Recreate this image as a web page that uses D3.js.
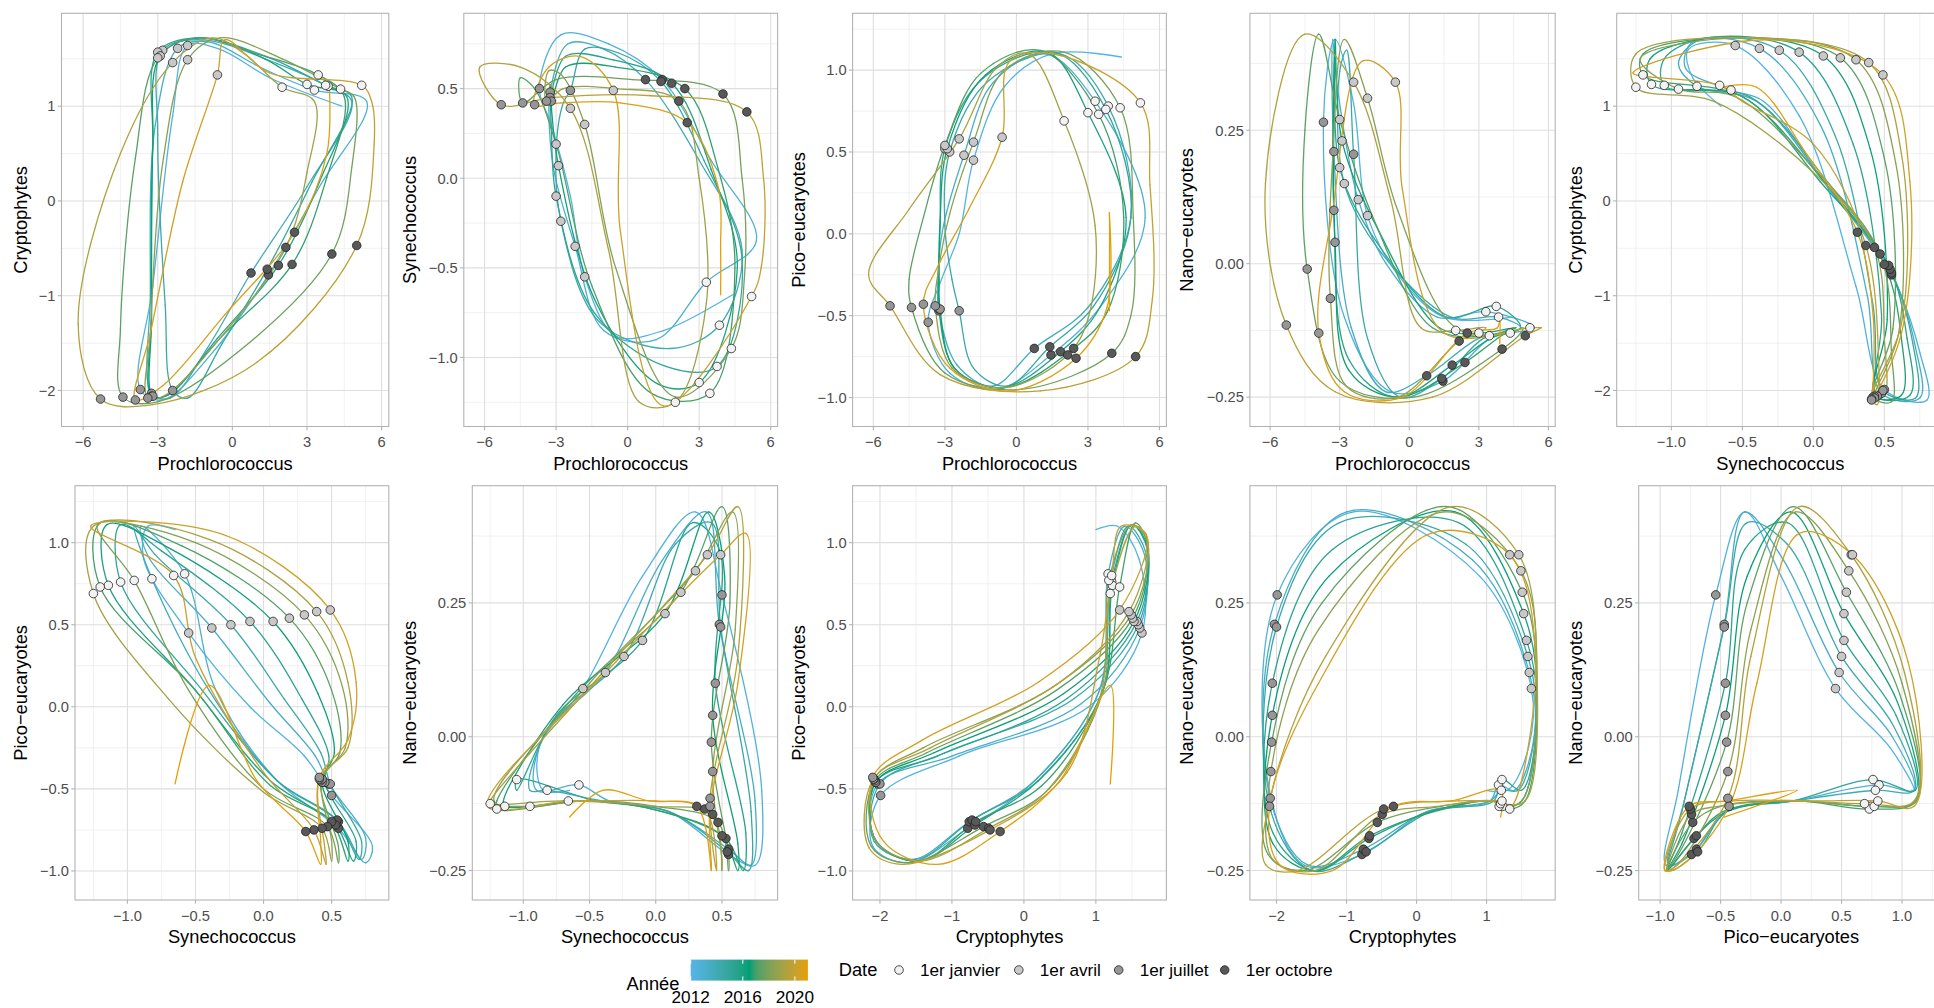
<!DOCTYPE html>
<html>
<head>
<meta charset="utf-8">
<script src="https://cdn.jsdelivr.net/npm/d3@7"></script>
<style>
html,body{margin:0;padding:0;background:#fff;overflow:hidden;}
svg{display:block;font-family:"Liberation Sans",Arial,Helvetica,sans-serif;}
</style>
</head>
<body>
<svg id="chart" width="1944" height="1008"></svg>
<script>
// ---------------- DATA ----------------
const years = [2012, 2013, 2014, 2015, 2016, 2017, 2018, 2019, 2020];
// one value per month start (1 Jan ... 1 Dec); 2012 starts mid-January
const monthStarts = ["01-01","02-01","03-01","04-01","05-01","06-01","07-01","08-01","09-01","10-01","11-01","12-01"];

const prochlorococcus = [
  [4.4, 1.5, -0.5, -1.8, -2.4, -3.2, -3.7, -2.8, -0.8, 1.45, 3.5, 5.4],
  [3.3, 1.2, -1.0, -2.2, -3.1, -3.3, -3.25, -2.5, -1.0, 0.75, 3.0, 4.8],
  [3.85, 1.8, -1.2, -2.8, -3.0, -2.7, -2.4, -1.8, -0.4, 1.4, 3.2, 4.8],
  [3.75, 1.6, -1.4, -3.0, -3.2, -3.25, -3.25, -2.6, -0.6, 1.85, 3.5, 4.6],
  [3.0, 1.3, -1.3, -2.9, -3.2, -3.25, -3.2, -2.6, -0.5, 2.4, 3.8, 4.5],
  [3.45, 1.0, -1.5, -3.0, -3.9, -4.5, -4.4, -3.0, 0.2, 4.0, 4.8, 4.9],
  [4.35, 2.0, -0.5, -1.8, -2.8, -3.3, -3.4, -2.7, -0.5, 2.15, 3.0, 3.3],
  [2.0, 0.5, -0.8, -2.4, -4.5, -6.2, -5.3, -3.2, 1.0, 5.0, 5.7, 5.6],
  [5.2, 1.5, -0.3, -0.6, -2.0, -3.3, -3.9, -2.8, -0.3, 2.5, 3.8, 3.9]
];
const prochlorococcusLast = 3.9;

const cryptophytes = [
  [1.0, 1.3, 1.6, 1.64, 0.9, -0.9, -1.99, -2.1, -1.6, -0.78, 0.15, 1.05],
  [1.17, 1.4, 1.68, 1.61, 0.8, -1.0, -2.03, -2.08, -1.55, -0.76, 0.15, 1.05],
  [1.21, 1.45, 1.7, 1.59, 0.7, -1.1, -2.0, -2.08, -1.5, -0.72, 0.2, 1.1],
  [1.22, 1.5, 1.72, 1.57, 0.6, -1.2, -2.06, -2.05, -1.45, -0.68, 0.2, 1.1],
  [1.23, 1.5, 1.72, 1.53, 0.55, -1.25, -2.06, -2.05, -1.45, -0.67, 0.25, 1.1],
  [1.33, 1.55, 1.72, 1.51, 0.45, -1.35, -2.07, -2.12, -1.6, -0.56, 0.35, 1.1],
  [1.18, 1.5, 1.72, 1.49, 0.4, -1.4, -2.08, -2.05, -1.45, -0.49, 0.3, 1.05],
  [1.2, 1.55, 1.72, 1.46, 0.5, -1.3, -2.09, -2.15, -1.7, -0.47, 0.6, 1.05],
  [1.22, 1.35, 1.7, 1.33, 0.2, -1.4, -2.1, -1.95, -1.2, -0.33, 0.5, 1.2]
];
const cryptophytesLast = 1.2;

const synechococcus = [
  [-0.65, -0.85, -0.88, -0.55, -0.1, 0.3, 0.5, 0.8, 0.75, 0.55, 0.1, -0.35],
  [-0.58, -0.9, -0.85, -0.38, 0.05, 0.38, 0.48, 0.75, 0.72, 0.55, 0.1, -0.4],
  [-0.82, -0.95, -0.8, -0.24, 0.15, 0.42, 0.49, 0.72, 0.7, 0.54, 0.1, -0.45],
  [-1.05, -1.05, -0.75, -0.10, 0.28, 0.48, 0.45, 0.68, 0.66, 0.53, 0.05, -0.5],
  [-1.14, -1.15, -0.7, 0.07, 0.4, 0.52, 0.43, 0.62, 0.62, 0.50, 0.05, -0.5],
  [-1.2, -1.2, -0.6, 0.19, 0.5, 0.56, 0.42, 0.55, 0.55, 0.47, 0.0, -0.55],
  [-0.95, -1.22, -0.5, 0.30, 0.58, 0.6, 0.43, 0.5, 0.5, 0.43, 0.0, -0.7],
  [-1.25, -1.25, -0.4, 0.39, 0.62, 0.62, 0.41, 0.45, 0.46, 0.37, 0.0, -0.5],
  [-0.66, -1.27, -0.3, 0.49, 0.68, 0.62, 0.41, 0.42, 0.42, 0.31, -0.05, -0.4]
];
const synechococcusLast = -0.65;

const picoEucaryotes = [
  [1.08, 1.1, 0.9, 0.45, 0.0, -0.3, -0.54, -0.85, -0.95, -0.74, -0.45, 0.1],
  [0.81, 1.1, 0.92, 0.48, 0.02, -0.3, -0.47, -0.8, -0.93, -0.70, -0.45, 0.1],
  [0.78, 1.1, 0.93, 0.50, 0.05, -0.28, -0.47, -0.82, -0.93, -0.69, -0.45, 0.1],
  [0.76, 1.11, 0.95, 0.52, 0.05, -0.3, -0.46, -0.82, -0.94, -0.72, -0.45, 0.1],
  [0.74, 1.11, 0.97, 0.52, 0.08, -0.28, -0.46, -0.82, -0.94, -0.70, -0.48, 0.1],
  [0.73, 1.12, 0.98, 0.54, 0.1, -0.28, -0.45, -0.85, -0.95, -0.73, -0.5, 0.1],
  [0.77, 1.11, 1.0, 0.56, 0.12, -0.25, -0.44, -0.82, -0.94, -0.74, -0.52, 0.05],
  [0.69, 1.1, 1.02, 0.58, 0.15, -0.25, -0.44, -0.86, -0.96, -0.75, -0.4, 0.3],
  [0.80, 1.1, 1.05, 0.59, 0.15, -0.2, -0.43, -0.82, -0.96, -0.76, -0.45, 0.13]
];
const picoEucaryotesLast = -0.47;

const nanoEucaryotes = [
  [-0.1, -0.1, -0.02, 0.09, 0.3, 0.42, 0.265, -0.1, -0.24, -0.22, -0.14, -0.12],
  [-0.09, -0.1, 0.0, 0.12, 0.33, 0.42, 0.21, -0.12, -0.24, -0.21, -0.14, -0.12],
  [-0.10, -0.1, 0.02, 0.15, 0.36, 0.4, 0.205, -0.14, -0.25, -0.215, -0.14, -0.12],
  [-0.08, -0.1, 0.04, 0.18, 0.4, 0.35, 0.10, -0.18, -0.25, -0.19, -0.14, -0.12],
  [-0.13, -0.12, 0.06, 0.23, 0.42, 0.3, 0.04, -0.2, -0.25, -0.185, -0.14, -0.12],
  [-0.135, -0.12, 0.08, 0.27, 0.43, 0.25, -0.01, -0.22, -0.25, -0.16, -0.13, -0.12],
  [-0.13, -0.12, 0.1, 0.31, 0.42, 0.2, -0.065, -0.23, -0.25, -0.145, -0.13, -0.12],
  [-0.125, -0.12, 0.12, 0.34, 0.43, 0.15, -0.115, -0.24, -0.25, -0.135, -0.12, -0.12],
  [-0.12, -0.13, 0.14, 0.34, 0.38, 0.1, -0.13, -0.24, -0.25, -0.13, -0.12, -0.1]
];
const nanoEucaryotesLast = -0.15;

// tick values
const proTicks = [-6, -3, 0, 3, 6];
const cryptoTicks = [-2, -1, 0, 1];
const synTicks = [-1.0, -0.5, 0.0, 0.5];
const picoTicks = [-1.0, -0.5, 0.0, 0.5, 1.0];
const nanoTicks = [-0.25, 0.0, 0.25];

// marker dates (month index) and legend
const markerMonthIndex = [0, 3, 6, 9];
const markerLabels = ["1er janvier", "1er avril", "1er juillet", "1er octobre"];
const colourYears = [2012, 2016, 2020];

// ---------------- STYLE / LAYOUT ----------------
const markerFills = ["#F2F2F2", "#C8C8C8", "#969696", "#585858"];
const yearColours = ["#56B4E9", "#009E73", "#E69F00"];
const fontTick = 14.7, fontTitle = 18.3, fontLegend = 17.2;

const vars = {
  pro:    {name: "Prochlorococcus", values: prochlorococcus, last: prochlorococcusLast, domain: [-6.87, 6.29], ticks: proTicks, dec: 0, left: 61.5},
  crypto: {name: "Cryptophytes", values: cryptophytes, last: cryptophytesLast, domain: [-2.38, 1.98], ticks: cryptoTicks, dec: 0, left: 61.5},
  syn:    {name: "Synechococcus", values: synechococcus, last: synechococcusLast, domain: [-1.385, 0.92], ticks: synTicks, dec: 1, left: 75},
  pico:   {name: "Pico\u2212eucaryotes", values: picoEucaryotes, last: picoEucaryotesLast, domain: [-1.177, 1.347], ticks: picoTicks, dec: 1, left: 75},
  nano:   {name: "Nano\u2212eucaryotes", values: nanoEucaryotes, last: nanoEucaryotesLast, domain: [-0.305, 0.469], ticks: nanoTicks, dec: 2, left: 83.5}
};

const panels = [
  ["pro","crypto"],["pro","syn"],["pro","pico"],["pro","nano"],["syn","crypto"],
  ["syn","pico"],["syn","nano"],["crypto","pico"],["crypto","nano"],["pico","nano"]
];

const colStart = [0, 388.8, 777.6, 1166.4, 1555.2];
const colW = 388.8;
const rowTop = [13.3, 485.7], rowBottom = [426.5, 900];

// time stamps of the points
const times = [];
years.forEach((y, yi) => {
  monthStarts.forEach((m, k) => {
    times.push(yi === 0 && k === 0 ? y + 14 / 366 : y + k / 12);
  });
});
times.push(2020 + 365 / 366);

function series(v) {
  const out = [];
  vars[v].values.forEach(arr => arr.forEach(d => out.push(d)));
  out.push(vars[v].last);
  return out;
}

const colour = d3.scaleLinear()
  .domain([2012, 2016.5, 2021])
  .range(yearColours)
  .interpolate(d3.interpolateLab);

const fmt = (d, dec) => (d < 0 ? "\u2212" : "") + Math.abs(d).toFixed(dec);

function minorOf(ticks) {
  const step = ticks[1] - ticks[0];
  const out = [];
  for (let i = -1; i < ticks.length; i++) out.push(ticks[0] + step * (i + 0.5));
  return out;
}

function crSegment(p0, p1, p2, p3) {
  const a = 0.5, eps = 1e-12;
  const d2 = (p, q) => (q[0]-p[0])*(q[0]-p[0]) + (q[1]-p[1])*(q[1]-p[1]);
  const l01_2a = Math.pow(d2(p0,p1), a), l01_a = Math.sqrt(l01_2a);
  const l12_2a = Math.pow(d2(p1,p2), a), l12_a = Math.sqrt(l12_2a);
  const l23_2a = Math.pow(d2(p2,p3), a), l23_a = Math.sqrt(l23_2a);
  let c1 = [p1[0], p1[1]], c2 = [p2[0], p2[1]];
  if (l01_a > eps) {
    const A = 2*l01_2a + 3*l01_a*l12_a + l12_2a, n = 3*l01_a*(l01_a + l12_a);
    c1 = [(p1[0]*A - p0[0]*l12_2a + p2[0]*l01_2a)/n, (p1[1]*A - p0[1]*l12_2a + p2[1]*l01_2a)/n];
  }
  if (l23_a > eps) {
    const B = 2*l23_2a + 3*l23_a*l12_a + l12_2a, m = 3*l23_a*(l23_a + l12_a);
    c2 = [(p2[0]*B + p1[0]*l23_2a - p3[0]*l12_2a)/m, (p2[1]*B + p1[1]*l23_2a - p3[1]*l12_2a)/m];
  }
  return `M${p1[0]},${p1[1]}C${c1[0]},${c1[1]},${c2[0]},${c2[1]},${p2[0]},${p2[1]}`;
}

const svg = d3.select("#chart");
const defs = svg.append("defs");

panels.forEach((pv, pi) => {
  const row = Math.floor(pi / 5), col = pi % 5;
  const X = vars[pv[0]], Y = vars[pv[1]];
  const left = colStart[col] + Y.left, right = colStart[col] + colW;
  const top = rowTop[row], bottom = rowBottom[row];
  const xs = d3.scaleLinear().domain(X.domain).range([left, right]);
  const ys = d3.scaleLinear().domain(Y.domain).range([bottom, top]);
  const g = svg.append("g");

  // grid
  minorOf(X.ticks).filter(v => v > X.domain[0] && v < X.domain[1]).forEach(v =>
    g.append("line").attr("x1", xs(v)).attr("x2", xs(v)).attr("y1", top).attr("y2", bottom)
      .attr("stroke", "#E6E6E6").attr("stroke-width", 0.55));
  minorOf(Y.ticks).filter(v => v > Y.domain[0] && v < Y.domain[1]).forEach(v =>
    g.append("line").attr("y1", ys(v)).attr("y2", ys(v)).attr("x1", left).attr("x2", right)
      .attr("stroke", "#E6E6E6").attr("stroke-width", 0.55));
  X.ticks.forEach(v => g.append("line").attr("x1", xs(v)).attr("x2", xs(v)).attr("y1", top).attr("y2", bottom)
      .attr("stroke", "#DEDEDE").attr("stroke-width", 1.1));
  Y.ticks.forEach(v => g.append("line").attr("y1", ys(v)).attr("y2", ys(v)).attr("x1", left).attr("x2", right)
      .attr("stroke", "#DEDEDE").attr("stroke-width", 1.1));

  // clip
  const cid = "clip" + pi;
  defs.append("clipPath").attr("id", cid).append("rect")
    .attr("x", left).attr("y", top).attr("width", right - left).attr("height", bottom - top);
  const plot = g.append("g").attr("clip-path", `url(#${cid})`);

  const xv = series(pv[0]), yv = series(pv[1]);
  const pts = xv.map((d, i) => [xs(d), ys(yv[i])]);
  const n = pts.length;
  for (let i = 0; i < n - 1; i++) {
    const p0 = pts[Math.max(i - 1, 0)], p1 = pts[i], p2 = pts[i + 1], p3 = pts[Math.min(i + 2, n - 1)];
    plot.append("path").attr("d", crSegment(i === 0 ? p1 : p0, p1, p2, i + 2 > n - 1 ? p2 : p3))
      .attr("fill", "none").attr("stroke", colour((times[i] + times[i + 1]) / 2))
      .attr("stroke-width", 1.3).attr("stroke-linecap", "round");
  }

  // markers
  years.forEach((y, yi) => {
    markerMonthIndex.forEach((k, mi) => {
      if (yi === 0 && k === 0) return; // series starts after 1 Jan 2012
      const idx = yi * 12 + k;
      plot.append("circle").attr("cx", pts[idx][0]).attr("cy", pts[idx][1]).attr("r", 4.3)
        .attr("fill", markerFills[mi]).attr("stroke", "#222").attr("stroke-width", 0.8);
    });
  });

  // border
  g.append("rect").attr("x", left).attr("y", top).attr("width", right - left).attr("height", bottom - top)
    .attr("fill", "none").attr("stroke", "#B3B3B3").attr("stroke-width", 1.1);

  // ticks + labels
  X.ticks.forEach(v => {
    g.append("line").attr("x1", xs(v)).attr("x2", xs(v)).attr("y1", bottom).attr("y2", bottom + 3.7)
      .attr("stroke", "#B3B3B3").attr("stroke-width", 1.1);
    g.append("text").attr("x", xs(v)).attr("y", bottom + 20.5).attr("text-anchor", "middle")
      .attr("font-size", fontTick).attr("fill", "#4D4D4D").text(fmt(v, X.dec));
  });
  Y.ticks.forEach(v => {
    g.append("line").attr("y1", ys(v)).attr("y2", ys(v)).attr("x1", left - 3.7).attr("x2", left)
      .attr("stroke", "#B3B3B3").attr("stroke-width", 1.1);
    g.append("text").attr("x", left - 6).attr("y", ys(v)).attr("dy", "0.36em").attr("text-anchor", "end")
      .attr("font-size", fontTick).attr("fill", "#4D4D4D").text(fmt(v, Y.dec));
  });
  // axis titles
  g.append("text").attr("x", (left + right) / 2).attr("y", bottom + 43).attr("text-anchor", "middle")
    .attr("font-size", fontTitle).attr("fill", "#000").text(X.name);
  g.append("text").attr("transform", `translate(${colStart[col] + 27},${(top + bottom) / 2}) rotate(-90)`)
    .attr("text-anchor", "middle").attr("font-size", fontTitle).attr("fill", "#000").text(Y.name);
});

// ---------------- LEGEND ----------------
const lg = svg.append("g");
lg.append("text").attr("x", 626.6).attr("y", 990).attr("font-size", fontTitle).text("Ann\u00e9e");
const barX0 = 690.7, barX1 = 807.9, barY0 = 959.6, barY1 = 980.6;
const bx = d3.scaleLinear().domain([2012, 2021]).range([barX0, barX1]);
const grad = defs.append("linearGradient").attr("id", "yearGrad").attr("x1", "0%").attr("x2", "100%");
d3.range(0, 21).forEach(i => {
  const t = 2012 + i * 9 / 20;
  grad.append("stop").attr("offset", (i * 5) + "%").attr("stop-color", colour(t));
});
lg.append("rect").attr("x", barX0).attr("y", barY0).attr("width", barX1 - barX0).attr("height", barY1 - barY0)
  .attr("fill", "url(#yearGrad)");
colourYears.forEach(yv => {
  const x = bx(yv);
  lg.append("line").attr("x1", x).attr("x2", x).attr("y1", barY0).attr("y2", barY0 + 4.2).attr("stroke", "#fff").attr("stroke-width", 1);
  lg.append("line").attr("x1", x).attr("x2", x).attr("y1", barY1 - 4.2).attr("y2", barY1).attr("stroke", "#fff").attr("stroke-width", 1);
  lg.append("text").attr("x", x).attr("y", 1003).attr("text-anchor", "middle").attr("font-size", fontLegend)
    .attr("fill", "#000").text(yv);
});

lg.append("text").attr("x", 838.7).attr("y", 976).attr("font-size", fontTitle).text("Date");
const keyX = [899, 1018.8, 1118.7, 1224.7];
markerLabels.forEach((lab, i) => {
  lg.append("circle").attr("cx", keyX[i]).attr("cy", 970).attr("r", 4.3)
    .attr("fill", markerFills[i]).attr("stroke", "#222").attr("stroke-width", 0.8);
  lg.append("text").attr("x", keyX[i] + 21).attr("y", 976).attr("font-size", fontLegend)
    .attr("fill", "#000").text(lab);
});
</script>
</body>
</html>
